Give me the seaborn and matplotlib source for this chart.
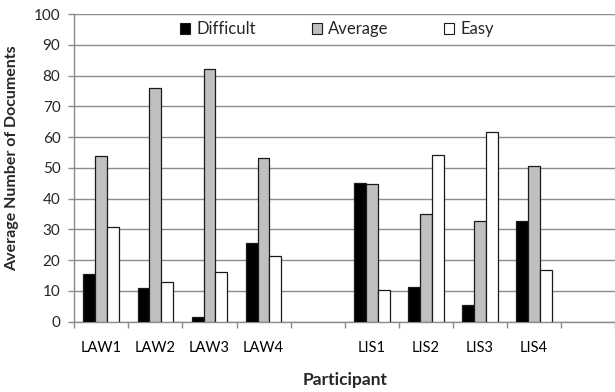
import matplotlib
matplotlib.use("Agg")
import matplotlib.pyplot as plt
import seaborn as sns
import pandas as pd
from matplotlib.patches import Patch

participants = ["LAW1", "LAW2", "LAW3", "LAW4", "LIS1", "LIS2", "LIS3", "LIS4"]
difficult = [15.4, 10.9, 1.6, 25.5, 45.0, 11.2, 5.4, 32.8]
average = [53.8, 76.1, 82.2, 53.1, 44.6, 34.9, 32.6, 50.7]
easy = [30.7, 12.9, 16.3, 21.4, 10.3, 54.2, 61.8, 16.7]
levels = ["Difficult", "Average", "Easy"]
colors = ["#000000", "#C0C0C0", "#FFFFFF"]

# axis order with empty slots separating the two groups and at the end
order = ["LAW1", "LAW2", "LAW3", "LAW4", " ", "LIS1", "LIS2", "LIS3", "LIS4", "  "]

rows = []
for p, d, a, e in zip(participants, difficult, average, easy):
    rows += [(p, "Difficult", d), (p, "Average", a), (p, "Easy", e)]
df = pd.DataFrame(rows, columns=["Participant", "Level", "Value"])

sns.set_style("white")
plt.rcParams["font.family"] = ["Lato", "DejaVu Sans"]

fig = plt.figure(figsize=(6.15, 3.92), dpi=100)
W, H = 615, 392
left, right, top, bottom = 74.3, 615, 14, 321.7
ax = fig.add_axes([left / W, 1 - bottom / H, (right - left) / W, (bottom - top) / H])

sns.barplot(data=df, x="Participant", y="Value", hue="Level", order=order,
            hue_order=levels, palette=colors, width=0.66, gap=0,
            edgecolor="#1a1a1a", linewidth=0.9, ax=ax, legend=False, zorder=3)

step = (564 - 74.3) / 9
ax.set_xlim(-0.5, -0.5 + (right - left) / step)
ax.set_ylim(0, 100)
ax.set_yticks(range(0, 101, 10))
ax.yaxis.grid(True, color="#8c8c8c", linewidth=1.0, zorder=0)
ax.set_axisbelow(True)

ax.set_xticks(range(len(order)))
ax.set_xticklabels(order)
ax.set_xticks([k + 0.5 for k in range(-1, len(order))], minor=True)
ax.tick_params(axis="x", which="major", length=0, pad=14, labelsize=10.5, colors="#000000")
ax.tick_params(axis="x", which="minor", length=4, width=1, color="#8c8c8c", direction="out",
               bottom=True)
ax.tick_params(axis="y", length=4, width=1, color="#8c8c8c", direction="out",
               labelsize=11, pad=6, left=True)

for s in ["top", "right"]:
    ax.spines[s].set_visible(False)
for s in ["left", "bottom"]:
    ax.spines[s].set_color("#8c8c8c")
    ax.spines[s].set_linewidth(1.0)

ax.set_xlabel("Participant", fontsize=12.5, fontweight="bold", labelpad=12)
ax.set_ylabel("")
fig.text(12.5 / W, 1 - 158 / H, "Average Number of Documents", rotation=90,
         ha="center", va="center", fontsize=11.5, fontweight="bold")

# one legend entry per fixed slot along the top of the plot
marker_x = [180, 312, 444]
for lvl, c, mx in zip(levels, colors, marker_x):
    h = Patch(facecolor=c, edgecolor="#1a1a1a", linewidth=0.8)
    fig.legend([h], [lvl], frameon=False, loc="center left",
               bbox_to_anchor=(mx / W, 1 - 29 / H),
               handlelength=0.62, handleheight=0.62, handletextpad=0.35,
               fontsize=12, borderaxespad=0, borderpad=0)

fig.savefig("out.png", dpi=100)
